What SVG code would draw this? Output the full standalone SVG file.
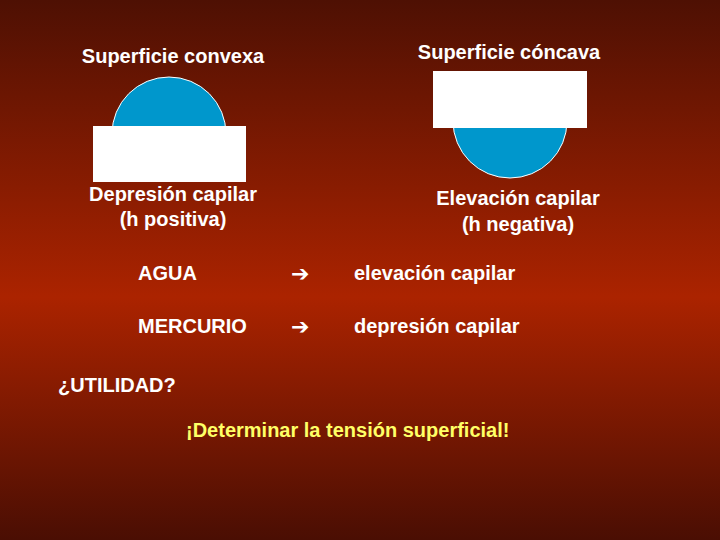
<svg xmlns="http://www.w3.org/2000/svg" width="720" height="540" viewBox="0 0 720 540">
<defs>
<linearGradient id="bg" x1="0" y1="0" x2="0" y2="1">
<stop offset="0" stop-color="#4e1003"/>
<stop offset="0.55" stop-color="#ab2300"/>
<stop offset="1" stop-color="#4a0e03"/>
</linearGradient>
<style>
text{font-family:"Liberation Sans",Arial,sans-serif;font-size:20px;font-weight:bold;fill:#fff}
.c{text-anchor:middle}
.drop{fill:#0097cc;stroke:#fff;stroke-width:1}
.box{fill:#fff}
.ar{font-family:"DejaVu Sans",sans-serif;font-size:22px}
</style>
</defs>
<rect width="720" height="540" fill="url(#bg)"/>
<g id="convexa">
<text x="173" y="63" class="c">Superficie convexa</text>
<path d="M112,134 A57,57 0 0 1 226,134 Z" class="drop"/>
<rect x="93" y="126" width="153" height="56" class="box"/>
<text x="173" y="201" class="c">Depresión capilar</text>
<text x="173" y="226" class="c">(h positiva)</text>
</g>
<g id="concava">
<text x="509" y="59" class="c">Superficie cóncava</text>
<path d="M453,121 A57,57 0 0 0 567,121 Z" class="drop"/>
<rect x="433" y="71" width="154" height="57" class="box"/>
<text x="518" y="205" class="c">Elevación capilar</text>
<text x="518" y="231" class="c">(h negativa)</text>
</g>
<g id="tabla">
<text x="138" y="280">AGUA</text>
<text x="291" y="281" class="ar">➔</text>
<text x="354" y="280">elevación capilar</text>
<text x="138" y="333">MERCURIO</text>
<text x="291" y="334" class="ar">➔</text>
<text x="354" y="333">depresión capilar</text>
</g>
<g id="utilidad">
<text x="58" y="392">¿UTILIDAD?</text>
<text x="186" y="437" style="fill:#ffff66">¡Determinar la tensión superficial!</text>
</g>
</svg>
